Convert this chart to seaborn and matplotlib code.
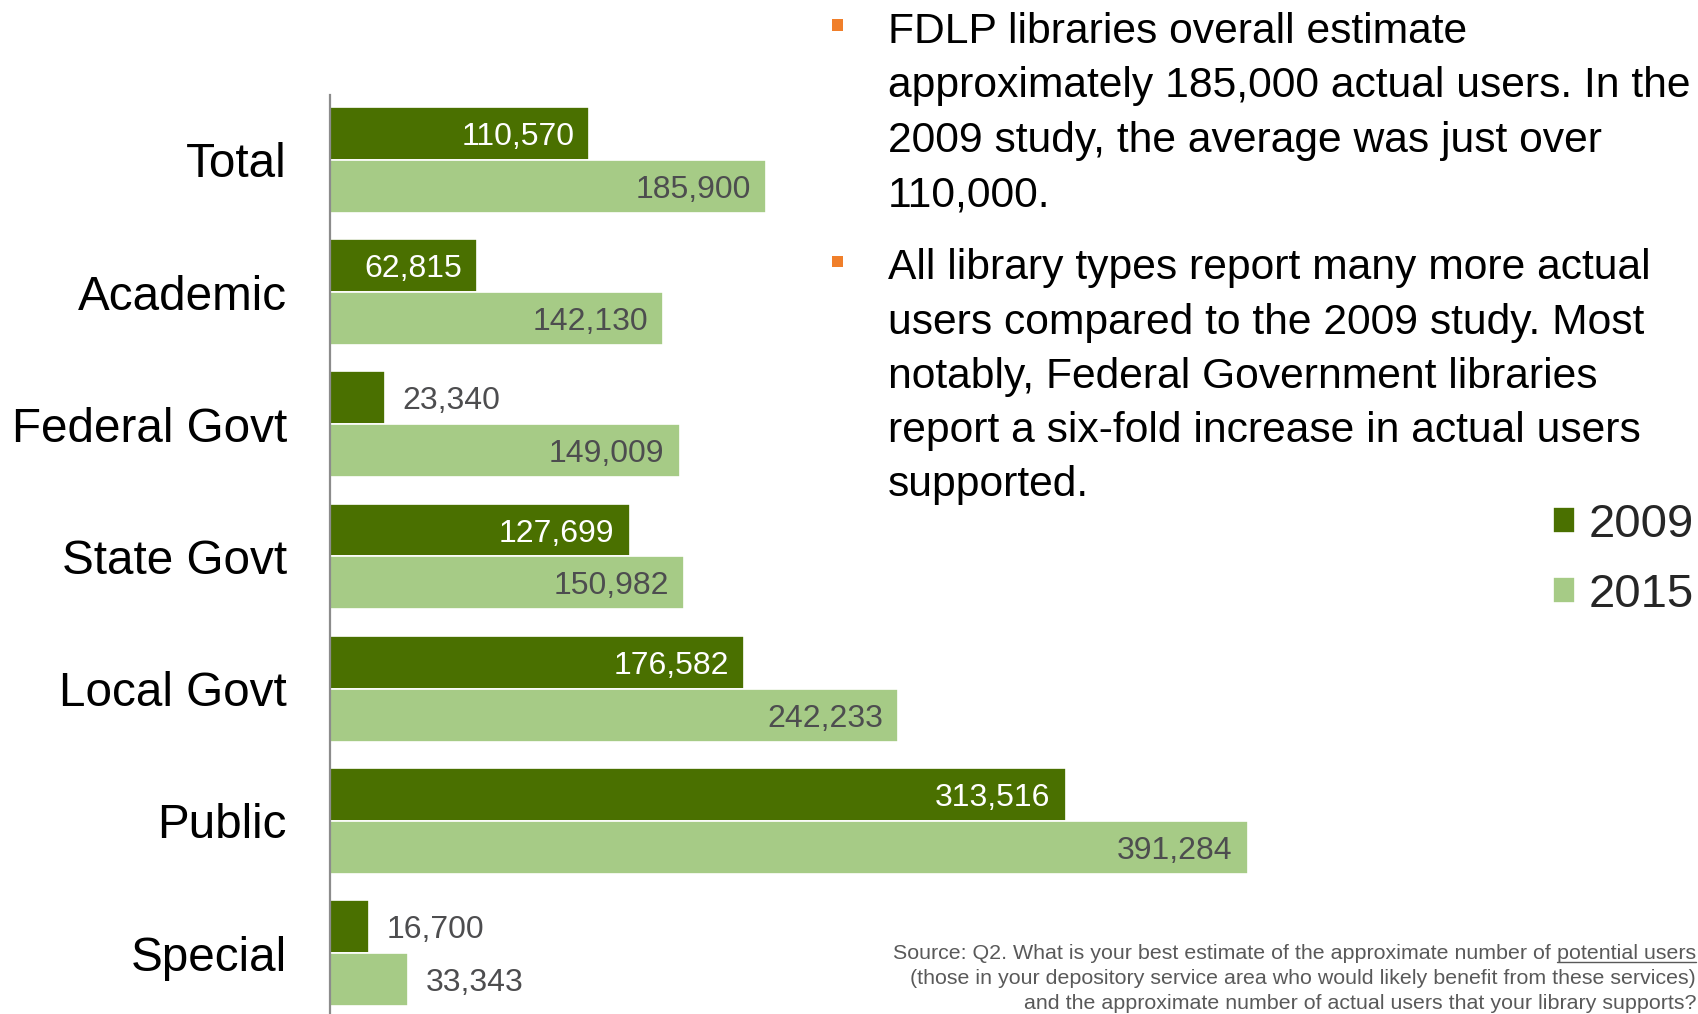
import matplotlib
matplotlib.use("Agg")
import matplotlib.pyplot as plt
from matplotlib.patches import Rectangle
from matplotlib.lines import Line2D
import pandas as pd
import seaborn as sns

# ---- data ----
categories = ["Total", "Academic", "Federal Govt", "State Govt", "Local Govt", "Public", "Special"]
years = ["2009", "2015"]
users_2009 = [110570, 62815, 23340, 127699, 176582, 313516, 16700]
users_2015 = [185900, 142130, 149009, 150982, 242233, 391284, 33343]

bullet_1 = ["FDLP libraries overall estimate",
            "approximately 185,000 actual users. In the",
            "2009 study, the average was just over",
            "110,000."]
bullet_2 = ["All library types report many more actual",
            "users compared to the 2009 study. Most",
            "notably, Federal Government libraries",
            "report a six-fold increase in actual users",
            "supported."]
source_lead = "Source: Q2. What is your best estimate of the approximate number of "
source_underlined = "potential users"
source_rest = ["(those in your depository service area who would likely benefit from these services)",
               "and the approximate number of actual users that your library supports?"]

DARK = "#4A7000"
LIGHT = "#A6CB86"
LABEL_GRAY = "#4D4D4F"
ORANGE = "#F07F2A"

df = pd.DataFrame({
    "category": categories * 2,
    "year": [years[0]] * len(categories) + [years[1]] * len(categories),
    "users": users_2009 + users_2015,
})

sns.set_style("white")
plt.rcParams["font.family"] = ["Liberation Sans", "DejaVu Sans"]

W, H = 1698, 1014
fig = plt.figure(figsize=(W / 100, H / 100), dpi=100)
ax = fig.add_axes([330 / W, 0.0, 938.5 / W, (H - 95) / H])

sns.barplot(data=df, y="category", x="users", hue="year", order=categories,
            hue_order=years, palette=[DARK, LIGHT], saturation=1, orient="h",
            width=0.8, edgecolor="white", linewidth=1.2, ax=ax, legend=True)

ax.set_xlim(0, 400000)
ax.set_ylim(6.46, -0.49)
ax.set_xlabel("")
ax.set_ylabel("")
ax.set_xticks([])
for side in ("top", "right", "bottom"):
    ax.spines[side].set_visible(False)
ax.spines["left"].set_color("#8C8C8C")
ax.spines["left"].set_linewidth(1.6)
ax.tick_params(axis="y", length=0, pad=31, labelsize=34.3, labelcolor="black")

# value labels: inside the bar end when it fits, otherwise just past it
for ci, container in enumerate(ax.containers):
    for bar in container:
        val = bar.get_width()
        yc = bar.get_y() + bar.get_height() / 2
        txt = f"{val:,.0f}"
        if val > 40000:
            color = "white" if ci == 0 else LABEL_GRAY
            ax.annotate(txt, (val, yc), xytext=(-11, 0), textcoords="offset points",
                        ha="right", va="center_baseline", fontsize=23, color=color)
        else:
            ax.annotate(txt, (val, yc), xytext=(12.5, 0), textcoords="offset points",
                        ha="left", va="center_baseline", fontsize=23, color=LABEL_GRAY)

# legend at right
handles, labels = ax.get_legend_handles_labels()
ax.get_legend().remove()
fig.legend(handles, labels, loc="upper left",
           bbox_to_anchor=(1553 / W, (H - 503) / H), frameon=False,
           fontsize=34, handlelength=0.46, handleheight=0.46,
           handletextpad=0.3, labelspacing=0.55, borderpad=0, borderaxespad=0)


def fx(px):
    return px / W


def fy(py):
    return (H - py) / H


# bullet paragraphs
for sq_top, lines, baselines in [
        (19.5, bullet_1, [43, 97.5, 151.8, 206]),
        (255.5, bullet_2, [279.5, 333.8, 388, 442.2, 496.4])]:
    fig.add_artist(Rectangle((fx(832), fy(sq_top + 11)), 11 / W, 11 / H,
                             transform=fig.transFigure, color=ORANGE, lw=0))
    for line, b in zip(lines, baselines):
        fig.text(fx(888), fy(b), line, ha="left", va="baseline",
                 fontsize=30.7, color="black")

# source note, right-aligned, with the underlined phrase
renderer = fig.canvas.get_renderer()
src_kw = dict(fontsize=15.4, color="#595959", va="baseline", ha="right")
x_right = fx(1696)
t_u = fig.text(x_right, fy(959), source_underlined, **src_kw)
bb = t_u.get_window_extent(renderer)
fig.text(bb.x0 / W, fy(959), source_lead, **src_kw)
fig.add_artist(Line2D([bb.x0 / W, bb.x1 / W], [fy(962), fy(962)],
                      transform=fig.transFigure, color="#595959", lw=1))
for line, b in zip(source_rest, [984, 1009]):
    fig.text(x_right, fy(b), line, **src_kw)

fig.savefig("out.png", dpi=100)
